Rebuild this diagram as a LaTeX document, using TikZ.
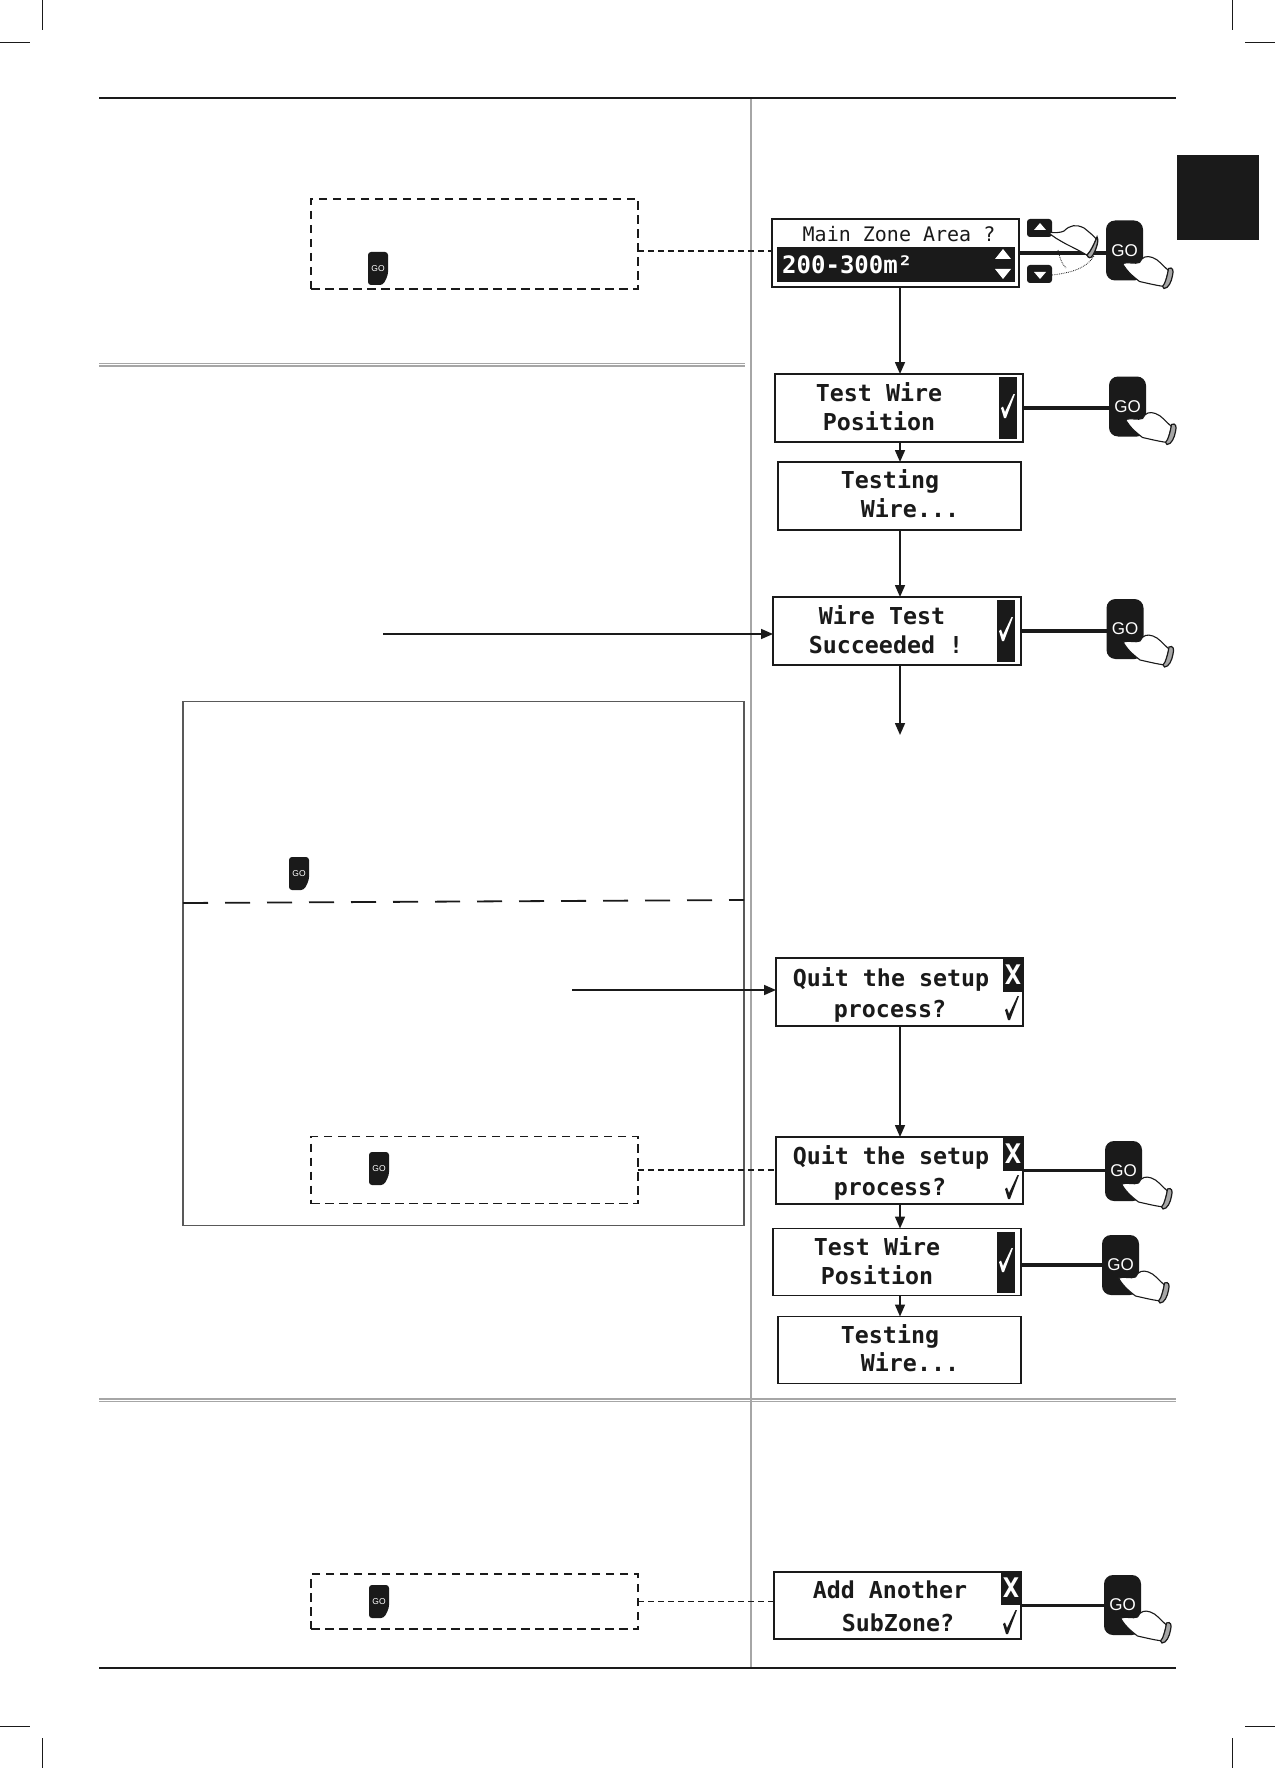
\documentclass[tikz,border=0pt]{standalone}
\usepackage{fontspec}
\setmainfont{Liberation Sans}
\newfontfamily\lcdfont{DejaVu Sans Mono}
\usetikzlibrary{arrows.meta}
\definecolor{ink}{HTML}{1A1A1A}
\definecolor{rule}{HTML}{A6A6A6}
\tikzset{
  lcdbox/.style={draw=ink,line width=1.8pt,fill=white,inner sep=0pt,outer sep=0pt},
  dashbox/.style={draw=ink,line width=1.8pt,dash pattern=on 8.5pt off 5.5pt,inner sep=0pt,outer sep=0pt},
  dashlink/.style={draw=ink,line width=1.6pt,dash pattern=on 6pt off 4pt},
  flow/.style={draw=ink,line width=1.6pt,-{Triangle[length=12pt,width=10pt]}},
  golink/.style={draw=ink,line width=3.2pt},
  lcdline/.style={inner sep=0pt,outer sep=0pt,text height=17pt,text depth=0pt,font=\lcdfont\bfseries\fontsize{23.3}{24}\selectfont,text=ink},
  gobtn/.style={fill=ink,rounded corners=9pt,minimum width=37pt,minimum height=60pt,inner sep=0pt,outer sep=0pt,text=white,font=\fontsize{17}{18}\selectfont},
  xmark/.style={inner sep=0pt,text=white,font=\lcdfont\bfseries\fontsize{27}{28}\selectfont},
  darkpanel/.style={fill=ink,inner sep=0pt,outer sep=0pt},
  smallgotext/.style={inner sep=0pt,text=white,font=\fontsize{8.5}{9}\selectfont},
  crop/.style={draw=ink,line width=0.9pt},
  mainrule/.style={draw=ink,line width=2pt},
  grey/.style={draw=rule,line width=1.3pt},
}
% check mark
\newcommand{\chkmark}[3]{\fill[#3,shift={(#1,#2)}] (-7,2) -- (-5,0.5) -- (-3,6) -- (5.5,-12) -- (7,-12) -- (-2,12) -- (-4,12) -- cycle;}
% GO button with pressing hand: name, x, y
\newcommand{\gowithhand}[3]{%
  \node[gobtn] (#1) at (#2,#3) {GO};
  \begin{scope}[shift={(#2,#3)}]
    \draw[ink,line width=1.1pt,fill=white,line join=round]
      (-2,13) .. controls (4,11) and (10,14) .. (15,12)
      .. controls (18,6) and (22,5) .. (28,7)
      .. controls (34,9) and (38,15) .. (44,20)
      -- (40,36)
      .. controls (32,35) and (24,33) .. (15,31)
      .. controls (10,27) and (3,22) .. (-2,13) -- cycle;
    \draw[ink,line width=1.2pt,fill=rule]
      (44,18) .. controls (48,16) and (49.5,20) .. (48,25)
      .. controls (47,31) and (44,38) .. (39.5,38)
      .. controls (37,37) and (38,35) .. (40,33)
      .. controls (42,28) and (43,24) .. (44,18) -- cycle;
  \end{scope}}
% small GO key
\newcommand{\smallgo}[3]{%
  \fill[ink,rounded corners=3pt] (#2-10,#3-17) -- (#2+10,#3-17) -- (#2+10,#3+6) -- (#2+5,#3+16) -- (#2-10,#3+16) -- cycle;
  \node[smallgotext] (#1) at (#2,#3) {GO};}
\begin{document}
\begin{tikzpicture}[x=1pt,y=-1pt]
\useasboundingbox (0,0) rectangle (1275,1768);
\fill[white] (0,0) rectangle (1275,1768);

% crop marks
\draw[crop] (42,0) -- (42,30);
\draw[crop] (0,42) -- (30,42);
\draw[crop] (1232,0) -- (1232,30);
\draw[crop] (1245,42) -- (1275,42);
\draw[crop] (42,1738) -- (42,1768);
\draw[crop] (0,1726) -- (30,1726);
\draw[crop] (1232,1738) -- (1232,1768);
\draw[crop] (1245,1726) -- (1275,1726);

% page rules
\draw[draw=rule,line width=2.4pt] (751,98) -- (751,1668);
\draw[mainrule] (99,98.5) -- (1176,98.5);
\draw[mainrule] (99,1668) -- (1176,1668);
\draw[grey] (99,363.5) -- (745,363.5);
\draw[grey] (99,366) -- (745,366);
\draw[grey] (99,1399) -- (1176,1399);
\draw[grey] (99,1401.5) -- (1176,1401.5);
\fill[ink] (1176.5,155) rectangle (1259,240);

% large frame
\node[draw=rule!45!ink,line width=1.6pt,minimum width=561pt,minimum height=524pt,inner sep=0pt] (frame) at (463.5,963.5) {};
\coordinate (fl) at (183,903);
\coordinate (fr) at (744,900);
\draw[ink,line width=1.8pt,dash pattern=on 25pt off 17pt] (fl) -- (fr);

% dashed note boxes
\node[dashbox,minimum width=327pt,minimum height=90pt] (note1) at (474.5,244) {};
\node[dashbox,minimum width=327pt,minimum height=67pt] (note2) at (474.5,1170) {};
\node[dashbox,minimum width=327pt,minimum height=55pt] (note3) at (474.5,1601.5) {};
\smallgo{sg1}{378}{269}
\smallgo{sg2}{299}{874}
\smallgo{sg3}{379}{1169}
\smallgo{sg4}{379}{1602}

% displays
\node[lcdbox,minimum width=247pt,minimum height=68pt] (d1) at (895.5,253) {};
\node[darkpanel,minimum width=238pt,minimum height=35pt] (d1bar) at (896,264.5) {};
\node[inner sep=0pt,text=ink,font=\lcdfont\fontsize{20}{21}\selectfont] (d1t) at (899,234) {Main Zone Area ?};
\node[anchor=west,inner sep=0pt,text=white,font=\lcdfont\bfseries\fontsize{24}{25}\selectfont] (d1v) at (782,264.5) {200-300m²};
\fill[white] (1003,249) -- (1011,259) -- (995,259) -- cycle;
\fill[white] (1003,279) -- (1011,269) -- (995,269) -- cycle;

\node[lcdbox,minimum width=248pt,minimum height=68pt] (d2) at (899,408) {};
\node[darkpanel,minimum width=18pt,minimum height=62pt] (d2c) at (1008,408) {};
\chkmark{1008}{406}{white}
\node[lcdline] (d2a) at (879,393) {Test Wire};
\node[lcdline] (d2b) at (879,422) {Position};

\node[lcdbox,minimum width=243pt,minimum height=68pt] (d3) at (899.5,496) {};
\node[lcdline] (d3a) at (890,480) {Testing};
\node[lcdline] (d3b) at (910,509) {Wire...};

\node[lcdbox,minimum width=248pt,minimum height=68pt] (d4) at (897,631) {};
\node[darkpanel,minimum width=18pt,minimum height=62pt] (d4c) at (1006,631) {};
\chkmark{1006}{629}{white}
\node[lcdline] (d4a) at (882,616) {Wire Test};
\node[lcdline] (d4b) at (886,645) {Succeeded !};

\node[lcdbox,minimum width=247pt,minimum height=68pt] (d5) at (899.5,992) {};
\node[darkpanel,minimum width=20pt,minimum height=34pt] (d5x) at (1013,975) {};
\node[xmark] (d5xt) at (1013,975) {X};
\chkmark{1012}{1008}{ink}
\node[lcdline] (d5a) at (891,978) {Quit the setup};
\node[lcdline] (d5b) at (890,1009) {process?};

\node[lcdbox,minimum width=247pt,minimum height=67pt] (d6) at (899.5,1170.5) {};
\node[darkpanel,minimum width=20pt,minimum height=34pt] (d6x) at (1013,1154) {};
\node[xmark] (d6xt) at (1013,1154) {X};
\chkmark{1012}{1187}{ink}
\node[lcdline] (d6a) at (891,1156) {Quit the setup};
\node[lcdline] (d6b) at (890,1187) {process?};

\node[lcdbox,minimum width=248pt,minimum height=67pt] (d7) at (897,1262) {};
\node[darkpanel,minimum width=18pt,minimum height=61pt] (d7c) at (1006,1262) {};
\chkmark{1006}{1260}{white}
\node[lcdline] (d7a) at (877,1247) {Test Wire};
\node[lcdline] (d7b) at (877,1276) {Position};

\node[lcdbox,minimum width=243pt,minimum height=67pt] (d8) at (899.5,1350) {};
\node[lcdline] (d8a) at (890,1335) {Testing};
\node[lcdline] (d8b) at (910,1363) {Wire...};

\node[lcdbox,minimum width=247pt,minimum height=67pt] (d9) at (897.5,1605.5) {};
\node[darkpanel,minimum width=20pt,minimum height=33pt] (d9x) at (1011,1588) {};
\node[xmark] (d9xt) at (1011,1588) {X};
\chkmark{1010}{1622}{ink}
\node[lcdline] (d9a) at (890,1590) {Add Another};
\node[lcdline] (d9b) at (898,1623) {SubZone?};

% GO buttons and links
\gowithhand{g1}{1124.5}{250.5}
\gowithhand{g2}{1127.5}{406.5}
\gowithhand{g3}{1125}{629}
\gowithhand{g4}{1123.5}{1171}
\gowithhand{g5}{1120.5}{1265}
\gowithhand{g6}{1122.5}{1605}
\draw[golink] (d1.east) -- (d1.east -| g1.west);
\draw[golink] (d2.east) -- (d2.east -| g2.west);
\draw[golink] (d4.east) -- (d4.east -| g3.west);
\draw[golink] (d6.east) -- (d6.east -| g4.west);
\draw[golink] (g5.west -| d7.east) -- (g5.west);
\draw[golink] (d9.east) -- (d9.east -| g6.west);

% up / down keys with hand
\node[darkpanel,rounded corners=3pt,minimum width=25pt,minimum height=18pt] (kup) at (1039.5,228) {};
\node[darkpanel,rounded corners=3pt,minimum width=25pt,minimum height=18pt] (kdn) at (1039.5,274) {};
\fill[white] (1040,223) -- (1046,230) -- (1034,230) -- cycle;
\fill[white] (1040,279) -- (1046,272) -- (1034,272) -- cycle;
\draw[ink,line width=0.8pt,densely dotted] (1058,250) .. controls (1060,258) and (1061,263) .. (1066,268);
\draw[ink,line width=0.8pt,densely dotted] (1052,275) .. controls (1068,273) and (1085,270) .. (1094,256);
\draw[ink,line width=1.1pt,fill=white,line join=round]
  (1048,232) .. controls (1054,233) and (1060,233) .. (1064,231)
  .. controls (1070,225) and (1076,224) .. (1084,228)
  .. controls (1089,232) and (1094,236) .. (1097,240)
  -- (1090,257)
  .. controls (1082,252) and (1074,248) .. (1066,244)
  .. controls (1059,240) and (1053,237) .. (1048,232) -- cycle;
\draw[ink,line width=1.3pt,fill=rule]
  (1097,237) .. controls (1099,239) and (1097,248) .. (1093,255)
  .. controls (1091,259) and (1088,258) .. (1087,255)
  .. controls (1091,251) and (1094,244) .. (1097,237) -- cycle;

% dashed links
\coordinate (n1y) at (0,251);
\draw[dashlink] (note1.east |- n1y) -- (d1.west |- n1y);
\draw[dashlink] (note2.east) -- (note2.east -| d6.west);
\draw[dashlink] (note3.east) -- (note3.east -| d9.west);

% flow arrows
\coordinate (ax) at (900,0);
\coordinate (wsrc) at (383,634);
\coordinate (qsrc) at (572,990);
\coordinate (endarrow) at (900,735);
\draw[flow] (d1.south -| ax) -- (d2.north -| ax);
\draw[flow] (d2.south -| ax) -- (d3.north -| ax);
\draw[flow] (d3.south -| ax) -- (d4.north -| ax);
\draw[flow] (d4.south -| ax) -- (endarrow);
\draw[flow] (d5.south -| ax) -- (d6.north -| ax);
\draw[flow] (d6.south -| ax) -- (d7.north -| ax);
\draw[flow] (d7.south -| ax) -- (d8.north -| ax);
\draw[flow] (wsrc) -- (wsrc -| d4.west);
\draw[flow] (qsrc) -- (qsrc -| d5.west);
\end{tikzpicture}
\end{document}
